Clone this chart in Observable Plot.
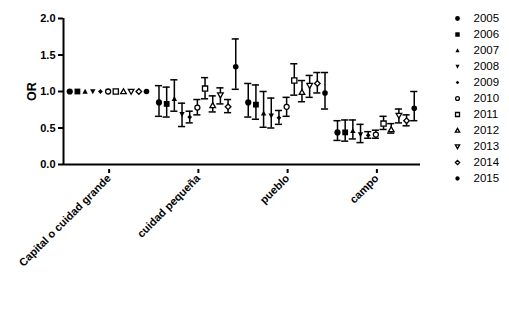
<!DOCTYPE html>
<html><head><meta charset="utf-8">
<script src="https://cdn.jsdelivr.net/npm/d3@7"></script>
<script src="https://cdn.jsdelivr.net/npm/@observablehq/plot@0.6"></script>
<style>
body{margin:0;background:#fff;}
#wrap{position:relative;width:509px;height:314px;overflow:hidden;background:#fff;}
#chart svg text{font-weight:bold;}
#legend{position:absolute;left:440px;top:0;}
</style></head><body>
<div id="wrap"><div id="chart"></div><div id="legend"></div></div>
<script>
// ---- data ----
const categories = ["Capital o cuidad grande", "cuidad pequeña", "pueblo", "campo"];
const years = [2005, 2006, 2007, 2008, 2009, 2010, 2011, 2012, 2013, 2014, 2015];
const hollowYears = [2010, 2011, 2012, 2013, 2014];
const yTicks = [0, 0.5, 1.0, 1.5, 2.0];

const orCapital = [1, 1, 1, 1, 1, 1, 1, 1, 1, 1, 1];
const loCapital = [null, null, null, null, null, null, null, null, null, null, null];
const hiCapital = [null, null, null, null, null, null, null, null, null, null, null];

const orPequena = [0.85, 0.83, 0.90, 0.69, 0.65, 0.78, 1.04, 0.81, 0.95, 0.79, 1.34];
const loPequena = [0.66, 0.65, 0.73, 0.52, 0.57, 0.68, 0.90, 0.72, 0.83, 0.71, 1.03];
const hiPequena = [1.08, 1.06, 1.16, 0.84, 0.73, 0.89, 1.19, 0.94, 1.05, 0.89, 1.72];

const orPueblo = [0.85, 0.82, 0.70, 0.67, 0.64, 0.79, 1.15, 0.99, 1.08, 1.11, 0.98];
const loPueblo = [0.65, 0.62, 0.51, 0.50, 0.55, 0.66, 0.95, 0.86, 0.92, 0.98, 0.76];
const hiPueblo = [1.11, 1.09, 1.00, 0.91, 0.74, 0.92, 1.38, 1.15, 1.22, 1.26, 1.26];

const orCampo = [0.44, 0.44, 0.46, 0.41, 0.40, 0.41, 0.56, 0.48, 0.67, 0.60, 0.77];
const loCampo = [0.33, 0.32, 0.35, 0.30, 0.36, 0.36, 0.48, 0.43, 0.57, 0.53, 0.60];
const hiCampo = [0.60, 0.61, 0.61, 0.55, 0.45, 0.47, 0.66, 0.56, 0.76, 0.68, 1.00];

const orByCat = [orCapital, orPequena, orPueblo, orCampo];
const loByCat = [loCapital, loPequena, loPueblo, loCampo];
const hiByCat = [hiCapital, hiPequena, hiPueblo, hiCampo];

// ---- layout params ----
const step = 0.086;   // within-group spacing (in category units)
const capHalf = 0.04; // error-bar cap half width (category units)

const rows = [];
categories.forEach((c, ci) => {
  years.forEach((y, yi) => {
    rows.push({cat: c, year: y, pos: ci + (yi - 5) * step,
      or: orByCat[ci][yi], lo: loByCat[ci][yi], hi: hiByCat[ci][yi],
      hollow: hollowYears.includes(y)});
  });
});
const ciRows = rows.filter(d => d.lo != null);

// ---- custom symbols (scaled by dot radius) ----
const poly = (pts) => ({draw(ctx, size) {
  const k = Math.sqrt(size / Math.PI) / 3;
  ctx.moveTo(pts[0][0] * k, pts[0][1] * k);
  for (let i = 1; i < pts.length; i++) ctx.lineTo(pts[i][0] * k, pts[i][1] * k);
  ctx.closePath();
}});
const circ = (r) => ({draw(ctx, size) {
  const k = Math.sqrt(size / Math.PI) / 3;
  ctx.moveTo(r * k, 0); ctx.arc(0, 0, r * k, 0, 2 * Math.PI);
}});
const symbols = [
  circ(3.1),                                   // 2005 filled circle
  poly([[-2.9,-2.9],[2.9,-2.9],[2.9,2.9],[-2.9,2.9]]), // 2006 filled square
  poly([[0,-2.8],[2.7,2.2],[-2.7,2.2]]),        // 2007 filled triangle
  poly([[0,2.8],[2.7,-2.2],[-2.7,-2.2]]),       // 2008 filled down triangle
  poly([[0,-2.4],[2.4,0],[0,2.4],[-2.4,0]]),    // 2009 filled diamond
  circ(2.5),                                   // 2010 hollow circle
  poly([[-2.6,-2.6],[2.6,-2.6],[2.6,2.6],[-2.6,2.6]]), // 2011 hollow square
  poly([[0,-2.7],[2.8,2.2],[-2.8,2.2]]),        // 2012 hollow triangle
  poly([[0,2.7],[2.8,-2.2],[-2.8,-2.2]]),       // 2013 hollow down triangle
  poly([[0,-2.8],[2.8,0],[0,2.8],[-2.8,0]]),    // 2014 hollow diamond
  circ(2.8)                                    // 2015 filled circle
];

const font = "'Liberation Sans', Arial, sans-serif";

const chart = Plot.plot({
  width: 509, height: 314,
  marginLeft: 63, marginRight: 89, marginTop: 18, marginBottom: 150,
  style: {fontFamily: font, fontSize: "11px", color: "#000", background: "white"},
  x: {domain: [-0.5, 3.5]},
  y: {domain: [0, 2]},
  symbol: {domain: years, range: symbols},
  color: {type: "identity"},
  marks: [
    Plot.ruleX(ciRows, {x: "pos", y1: "lo", y2: "hi", stroke: "black", strokeWidth: 1.5}),
    Plot.ruleY(ciRows, {y: "hi", x1: d => d.pos - capHalf, x2: d => d.pos + capHalf, stroke: "black", strokeWidth: 1.5}),
    Plot.ruleY(ciRows, {y: "lo", x1: d => d.pos - capHalf, x2: d => d.pos + capHalf, stroke: "black", strokeWidth: 1.5}),
    Plot.dot(rows, {x: "pos", y: "or", symbol: "year", r: 3,
      fill: d => d.hollow ? "white" : "black",
      stroke: d => d.hollow ? "black" : "none", strokeWidth: 1.3}),
    Plot.axisY({ticks: yTicks, tickFormat: d3.format(".1f"), tickSize: 5, tickPadding: 3,
      strokeWidth: 2, fontSize: 11}),
    Plot.axisY({ticks: [], label: "OR", labelAnchor: "center", labelArrow: "none", labelOffset: 36, fontSize: 12.5}),
    Plot.axisX({ticks: [0, 1, 2, 3], tickFormat: i => categories[i], tickSize: 4, tickPadding: 3,
      tickRotate: -45, strokeWidth: 2, label: null, fontSize: 11, dy: 5, dx: 1}),
    Plot.ruleX([-0.5], {y1: 0, y2: 2, stroke: "black", strokeWidth: 2}),
    Plot.ruleY([0], {x1: -0.5, x2: 3.5, stroke: "black", strokeWidth: 2})
  ]
});
document.getElementById("chart").appendChild(chart);

const legend = Plot.plot({
  width: 69, height: 200, margin: 0,
  style: {fontFamily: font, fontSize: "11.5px", color: "#000", background: "transparent"},
  y: {type: "point", domain: years, range: [8, 188], axis: null},
  symbol: {domain: years, range: symbols},
  color: {type: "identity"},
  marks: [
    Plot.dot(years, {y: d => d, frameAnchor: "left", dx: 17, symbol: d => d, r: 2.3,
      fill: d => hollowYears.includes(d) ? "white" : "black",
      stroke: d => hollowYears.includes(d) ? "black" : "none", strokeWidth: 1.3}),
    Plot.text(years, {y: d => d, frameAnchor: "left", dx: 33, text: d => String(d), textAnchor: "start", fill: "black"})
  ]
});
document.getElementById("legend").appendChild(legend);
</script>
</body></html>
